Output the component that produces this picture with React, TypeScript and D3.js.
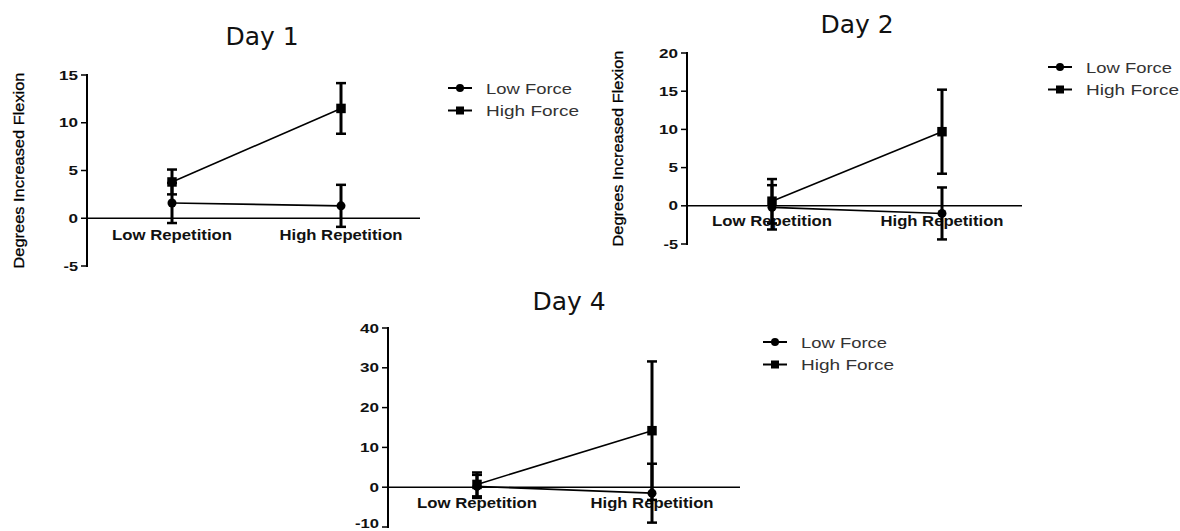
import React from 'react';
import * as d3 from 'd3';

// categories and series (degrees increased flexion, mean and error)
const categories = ['Low Repetition', 'High Repetition'];
const seriesNames = ['Low Force', 'High Force'];

const day1LowForce = [1.6, 1.3];
const day1LowForceErr = [2.1, 2.2];
const day1HighForce = [3.8, 11.5];
const day1HighForceErr = [1.3, 2.65];
const day1Ticks = [-5, 0, 5, 10, 15];

const day2LowForce = [-0.2, -1.0];
const day2LowForceErr = [2.9, 3.4];
const day2HighForce = [0.6, 9.7];
const day2HighForceErr = [2.9, 5.5];
const day2Ticks = [-5, 0, 5, 10, 15, 20];

const day4LowForce = [0.2, -1.5];
const day4LowForceErr = [2.9, 7.4];
const day4HighForce = [0.7, 14.2];
const day4HighForceErr = [3.0, 17.4];
const day4Ticks = [-10, 0, 10, 20, 30, 40];

type Panel = {
  title: string;
  low: number[]; lowErr: number[]; high: number[]; highErr: number[];
  ticks: number[];
  axisX: number; yTop: number; yBottom: number;
  xLow: number; xHigh: number; xEnd: number;
  titleX: number; titleY: number; catY: number;
  yLabelX: number | null;
  legendX: number; legendY: number;
};

const panels: Panel[] = [
  {
    title: 'Day 1', low: day1LowForce, lowErr: day1LowForceErr, high: day1HighForce, highErr: day1HighForceErr,
    ticks: day1Ticks, axisX: 87, yTop: 75, yBottom: 266, xLow: 172, xHigh: 341, xEnd: 420,
    titleX: 262, titleY: 45, catY: 240, yLabelX: 24, legendX: 448, legendY: 88,
  },
  {
    title: 'Day 2', low: day2LowForce, lowErr: day2LowForceErr, high: day2HighForce, highErr: day2HighForceErr,
    ticks: day2Ticks, axisX: 687, yTop: 53, yBottom: 244, xLow: 772, xHigh: 942, xEnd: 1022,
    titleX: 857, titleY: 33, catY: 226, yLabelX: 623, legendX: 1048, legendY: 67,
  },
  {
    title: 'Day 4', low: day4LowForce, lowErr: day4LowForceErr, high: day4HighForce, highErr: day4HighForceErr,
    ticks: day4Ticks, axisX: 388, yTop: 328, yBottom: 527, xLow: 477, xHigh: 652, xEnd: 740,
    titleX: 569, titleY: 310, catY: 508, yLabelX: null, legendX: 763, legendY: 342,
  },
];

const FONT = '"Liberation Sans", Arial, sans-serif';

function tickWidth(t: number) {
  const s = String(t);
  return s.replace('-', '').length * 9.5 + (s.includes('-') ? 5 : 0);
}

function Marker({ kind, x, y, size }: { kind: string; x: number; y: number; size: number }) {
  if (kind === 'Low Force') return <circle cx={x} cy={y} r={size / 2} fill="#000" />;
  return <rect x={x - size / 2} y={y - size / 2} width={size} height={size} fill="#000" />;
}

function ChartPanel({ p }: { p: Panel }) {
  const y = d3.scaleLinear()
    .domain([p.ticks[0], p.ticks[p.ticks.length - 1]])
    .range([p.yBottom, p.yTop]);
  const x = d3.scalePoint<string>().domain(categories).range([p.xLow, p.xHigh]);
  const line = d3.line<number>().x((_, i) => x(categories[i]) as number).y(d => y(d));

  const series = [
    { name: seriesNames[0], vals: p.low, errs: p.lowErr },
    { name: seriesNames[1], vals: p.high, errs: p.highErr },
  ];

  return (
    <g>
      <text x={p.titleX} y={p.titleY} textAnchor="middle" fontFamily='"DejaVu Sans", sans-serif' fontSize={25} fill="#111">
        {p.title}
      </text>

      {p.yLabelX !== null && (
        <text
          transform={`translate(${p.yLabelX},${(p.yTop + p.yBottom) / 2}) rotate(-90)`}
          textAnchor="middle" fontFamily={FONT} fontSize={15} fill="#000" stroke="#000" strokeWidth={0.3}
          textLength={196} lengthAdjust="spacingAndGlyphs"
        >
          Degrees Increased Flexion
        </text>
      )}

      {/* y axis */}
      <line x1={p.axisX} x2={p.axisX} y1={y(p.ticks[0]) + 1} y2={y(p.ticks[p.ticks.length - 1]) - 1} stroke="#000" strokeWidth={2} />
      {p.ticks.map(t => (
        <g key={t}>
          <line x1={p.axisX - 6} x2={p.axisX} y1={y(t)} y2={y(t)} stroke="#000" strokeWidth={1.5} />
          <text x={p.axisX - 9} y={Math.min(y(t) + 4.5, 528)} textAnchor="end" fontFamily={FONT} fontWeight="bold" fontSize={13}
            fill="#111" textLength={tickWidth(t)} lengthAdjust="spacingAndGlyphs">
            {t}
          </text>
        </g>
      ))}

      {/* zero line */}
      <line x1={p.axisX} x2={p.xEnd} y1={y(0)} y2={y(0)} stroke="#000" strokeWidth={1.5} />

      {categories.map((c, i) => (
        <text key={c} x={x(c)} y={p.catY} textAnchor="middle" fontFamily={FONT} fontWeight="bold" fontSize={14}
          fill="#111" textLength={i === 0 ? 120 : 123} lengthAdjust="spacingAndGlyphs">
          {c}
        </text>
      ))}

      {series.map(s => (
        <g key={s.name}>
          <path d={line(s.vals) || ''} fill="none" stroke="#000" strokeWidth={1.6} />
          {s.vals.map((v, i) => {
            const cx = x(categories[i]) as number;
            const y1 = y(v + s.errs[i]);
            const y2 = y(v - s.errs[i]);
            return (
              <g key={i}>
                <line x1={cx} x2={cx} y1={y1} y2={y2} stroke="#000" strokeWidth={3} />
                <line x1={cx - 5} x2={cx + 5} y1={y1} y2={y1} stroke="#000" strokeWidth={2.5} />
                <line x1={cx - 5} x2={cx + 5} y1={y2} y2={y2} stroke="#000" strokeWidth={2.5} />
                <Marker kind={s.name} x={cx} y={y(v)} size={s.name === 'Low Force' ? 9 : 9.5} />
              </g>
            );
          })}
        </g>
      ))}

      {/* legend */}
      {seriesNames.map((n, i) => {
        const ly = p.legendY + i * 22.5;
        return (
          <g key={n}>
            <line x1={p.legendX} x2={p.legendX + 24} y1={ly} y2={ly} stroke="#000" strokeWidth={2} />
            <Marker kind={n} x={p.legendX + 12} y={ly} size={8} />
            <text x={p.legendX + 38} y={ly + 5.5} fontFamily={FONT} fontSize={15} fill="#333"
              textLength={n === 'Low Force' ? 86 : 93} lengthAdjust="spacingAndGlyphs">
              {n}
            </text>
          </g>
        );
      })}
    </g>
  );
}

export default function App() {
  return (
    <svg width={1180} height={531} style={{ position: 'absolute', left: 0, top: 0, background: '#fff' }}>
      {panels.map(p => <ChartPanel key={p.title} p={p} />)}
    </svg>
  );
}
